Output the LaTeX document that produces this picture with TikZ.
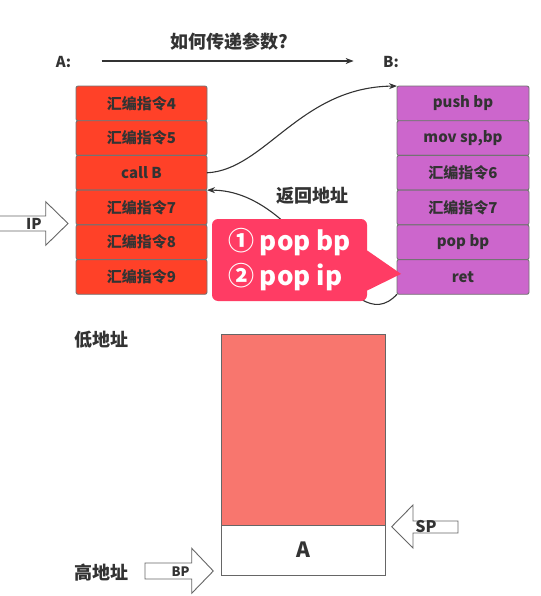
\documentclass[tikz,border=0pt]{standalone}
\usepackage{fontspec}
\setmainfont{Noto Sans CJK SC}
\usetikzlibrary{positioning,arrows.meta}

\definecolor{asmred}{HTML}{FF4128}
\definecolor{asmpurple}{HTML}{CC66CC}
\definecolor{stackred}{HTML}{F8766E}
\definecolor{notered}{HTML}{FF3C64}
\definecolor{inkgray}{HTML}{333333}

\begin{document}
\begin{tikzpicture}[x=1pt,y=-1pt,>={Stealth[length=8pt,width=6pt]},
  every node/.style={text=inkgray,font=\bfseries},
  instr/.style={draw=black!55,line width=0.9pt,rounded corners=2pt,minimum width=131pt,
    minimum height=34.7pt,inner sep=0pt,outer sep=0pt,font=\fontsize{15}{17}\selectfont\bfseries},
  funa/.style={instr,fill=asmred},
  funb/.style={instr,fill=asmpurple,minimum width=132pt},
  headtext/.style={font=\fontsize{18}{20}\selectfont\bfseries},
  nametext/.style={font=\fontsize{15}{17}\selectfont\bfseries},
  regtext/.style={font=\fontsize{#1}{#1}\selectfont\bfseries,inner sep=0pt},
  blockarrow/.style={draw=black!60,fill=white,line width=0.9pt},
  link/.style={->,draw=inkgray,line width=1.1pt},
  cell/.style={draw=black!60,line width=1pt,minimum width=164pt,inner sep=0pt,outer sep=0pt},
  popnote/.style={fill=notered,rounded corners=6pt,minimum width=155pt,minimum height=82pt,
    align=left,text=white,font=\fontsize{26}{35}\selectfont\bfseries}]
  \fill[white] (0,0) rectangle (540,596);
  \useasboundingbox (0,0) rectangle (540,596);

  % caller and callee
  \node[headtext] (title) at (229,42) {如何传递参数?};
  \node[nametext] (nameA) at (63.5,62) {A:};
  \node[nametext] (nameB) at (391,62) {B:};
  \draw[link] ([xshift=27pt,yshift=1pt]nameA.east) -- ([xshift=-26pt,yshift=1pt]nameB.west);

  \node[funa] (a4) at (141.5,103.4) {汇编指令4};
  \node[funa,below=0pt of a4] (a5) {汇编指令5};
  \node[funa,below=0pt of a5] (callb) {call B};
  \node[funa,below=0pt of callb] (a7) {汇编指令7};
  \node[funa,below=0pt of a7] (a8) {汇编指令8};
  \node[funa,below=0pt of a8] (a9) {汇编指令9};

  \node[funb] (pushbp) at (463,103.4) {push bp};
  \node[funb,below=0pt of pushbp] (movsp) {mov sp,bp};
  \node[funb,below=0pt of movsp] (b6) {汇编指令6};
  \node[funb,below=0pt of b6] (b7) {汇编指令7};
  \node[funb,below=0pt of b7] (popbp) {pop bp};
  \node[funb,below=0pt of popbp] (ret) {ret};

  \draw[link] (callb.east) .. controls (265,170) and (300,87) .. (pushbp.north west);
  \draw[link] (ret.south west) .. controls (350,345) and (305,190) .. (callb.south east);
  \node[headtext] (retaddr) at (312,196) {返回地址};

  % IP
  \draw[blockarrow] (-1,216) -- (45.7,216) -- (45.7,201.7) -- (68,223.5) -- (45.7,245.3)
    -- (45.7,231) -- (-1,231) -- cycle;
  \node[regtext=15] (ip) at (34,223.5) {IP};

  \node[popnote] (pops) at (289.5,260) {① pop bp\\② pop ip};
  \fill[notered] ([yshift=9.5pt]pops.east) -- ([xshift=4pt,yshift=3pt]ret.west)
    -- ([yshift=-30.5pt]pops.east) -- cycle;

  % stack
  \node[headtext] (lowaddr) at (101.5,340) {低地址};
  \node[headtext] (highaddr) at (101.5,573) {高地址};
  \node[cell,fill=stackred,minimum height=191pt] (frame) at (303,429.5) {};
  \node[cell,fill=white,minimum height=50pt,below=0pt of frame,
    font=\fontsize{21}{21}\selectfont\bfseries] (slota) {A};

  \draw[blockarrow] (458,521) -- (413,521) -- (413,505) -- (391.7,526.7) -- (413,548)
    -- (413,533) -- (458,533) -- cycle;
  \node[regtext=16] (sp) at (426,527) {SP};
  \draw[blockarrow] (145,563) -- (191.7,563) -- (191.7,548.3) -- (213.3,571) -- (191.7,593.3)
    -- (191.7,579) -- (145,579) -- cycle;
  \node[regtext=13] (bp) at (180.5,572) {BP};
\end{tikzpicture}
\end{document}
